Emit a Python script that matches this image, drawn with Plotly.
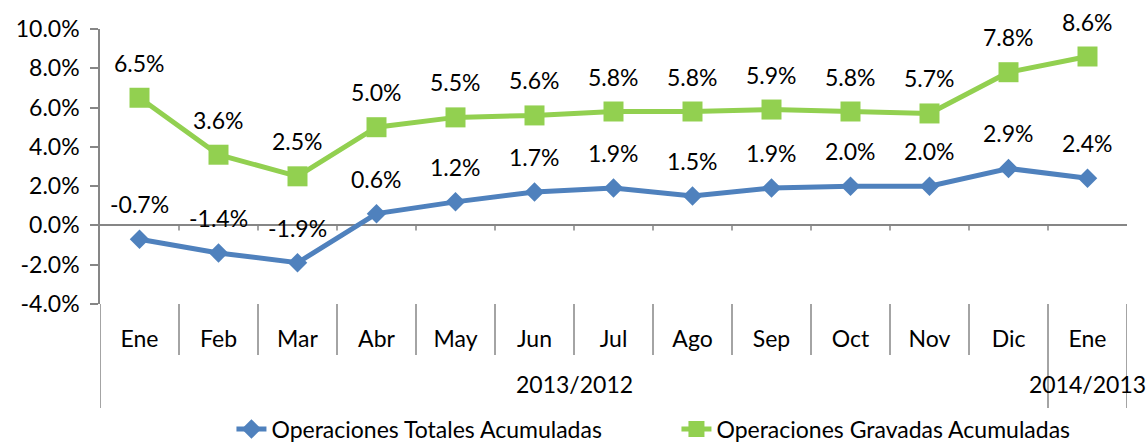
import plotly.graph_objects as go

months = ["Ene", "Feb", "Mar", "Abr", "May", "Jun", "Jul", "Ago", "Sep", "Oct", "Nov", "Dic", "Ene"]
periods = ["2013/2012", "2014/2013"]
period_sizes = [12, 1]
totales = [-0.7, -1.4, -1.9, 0.6, 1.2, 1.7, 1.9, 1.5, 1.9, 2.0, 2.0, 2.9, 2.4]
gravadas = [6.5, 3.6, 2.5, 5.0, 5.5, 5.6, 5.8, 5.8, 5.9, 5.8, 5.7, 7.8, 8.6]
y_ticks = [-4, -2, 0, 2, 4, 6, 8, 10]

FONT = "Lato, Carlito, Calibri, sans-serif"
FS = 23
AXIS_COL = "#868686"
BLUE = "#4F81BD"
GREEN = "#92D050"

xs = list(range(len(months)))
t_frac = [v / 100 for v in totales]
g_frac = [v / 100 for v in gravadas]

def pct(v):
    return f"{v:.1f}%".replace("\u2212", "-")

fig = go.Figure()
fig.add_trace(go.Scatter(
    x=xs, y=t_frac, mode="lines+markers", name="Operaciones Totales Acumuladas",
    line=dict(color=BLUE, width=5),
    marker=dict(symbol="diamond", size=15, color=BLUE),
))
fig.add_trace(go.Scatter(
    x=xs, y=g_frac, mode="lines+markers", name="Operaciones Gravadas Acumuladas",
    line=dict(color=GREEN, width=5),
    marker=dict(symbol="square", size=20, color=GREEN),
))

annotations = []
for series in (totales, gravadas):
    for xv, v in zip(xs, series):
        annotations.append(dict(x=xv, y=v / 100, xref="x", yref="y", text=pct(v),
                                showarrow=False, yshift=35,
                                font=dict(family=FONT, size=FS, color="#000")))

# period labels and separators
shapes = []
start = 0
bounds_long = [-0.5]
for p, n in zip(periods, period_sizes):
    center = start + (n - 1) / 2
    annotations.append(dict(x=center, y=0, xref="x", yref="paper", text=p, showarrow=False,
                            yshift=-80, yanchor="middle",
                            font=dict(family=FONT, size=FS, color="#000")))
    start += n
    bounds_long.append(start - 0.5)

for i in range(len(months) + 1):
    b = i - 0.5
    is_long = b in bounds_long
    shapes.append(dict(type="line", xref="x", yref="paper", x0=b, x1=b,
                       ysizemode="pixel", yanchor=0, y0=0, y1=-104 if is_long else -51,
                       line=dict(color=AXIS_COL, width=1.5)))
    if 0 < i < len(months):
        shapes.append(dict(type="line", xref="x", yref="y", x0=b, x1=b,
                           ysizemode="pixel", yanchor=0, y0=0, y1=-5,
                           line=dict(color=AXIS_COL, width=1.5)))

fig.update_layout(
    width=1147, height=443,
    margin=dict(l=100, r=20, t=29, b=139, autoexpand=False),
    paper_bgcolor="white", plot_bgcolor="white",
    font=dict(family=FONT, size=FS, color="#000"),
    showlegend=True,
    legend=dict(orientation="h", x=0.128, xanchor="left", y=-0.455, yanchor="middle",
                font=dict(family=FONT, size=FS), entrywidth=400, entrywidthmode="pixels",
                bgcolor="rgba(0,0,0,0)"),
    annotations=annotations,
    shapes=shapes,
)
fig.update_xaxes(range=[-0.5, len(months) - 0.5], tickvals=xs, ticktext=months,
                 showgrid=False, zeroline=False, showline=False, ticks="", automargin=False,
                 ticklabelstandoff=19, tickfont=dict(family=FONT, size=FS))
fig.update_yaxes(range=[-0.04, 0.10], tickvals=[v / 100 for v in y_ticks],
                 ticktext=[pct(v) for v in y_ticks], automargin=False,
                 showgrid=False, zeroline=True, zerolinecolor=AXIS_COL, zerolinewidth=1.5,
                 showline=True, linecolor=AXIS_COL, linewidth=1.5,
                 ticks="outside", ticklen=8, tickcolor=AXIS_COL, tickwidth=1.5,
                 ticklabelstandoff=6, tickfont=dict(family=FONT, size=FS))

fig.write_html("out.html", config={"displayModeBar": False},
               post_script="document.body.style.margin='0';document.body.style.overflow='hidden';")
